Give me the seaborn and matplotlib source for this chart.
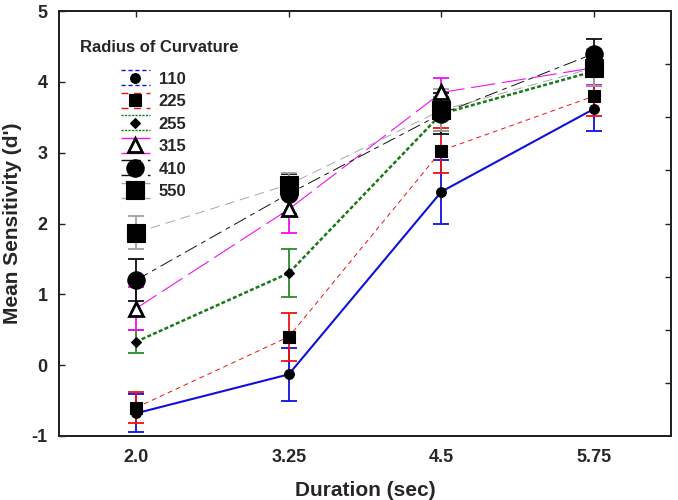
import numpy as np
import pandas as pd
import matplotlib
matplotlib.use("Agg")
import matplotlib.pyplot as plt
import seaborn as sns
from matplotlib.lines import Line2D
from matplotlib.legend_handler import HandlerBase

# ---------------- data ----------------
durations = [2.0, 3.25, 4.5, 5.75]
duration_labels = ["2.0", "3.25", "4.5", "5.75"]
radii = ["110", "225", "255", "315", "410", "550"]

mean_110 = [-0.68, -0.13, 2.45, 3.62]
mean_225 = [-0.60, 0.40, 3.03, 3.80]
mean_255 = [0.33, 1.30, 3.55, 4.15]
mean_315 = [0.80, 2.20, 3.85, 4.20]
mean_410 = [1.20, 2.42, 3.55, 4.40]
mean_550 = [1.87, 2.55, 3.60, 4.20]

err_110 = [0.27, 0.37, 0.45, 0.32]
err_225 = [0.22, 0.34, 0.32, 0.28]
err_255 = [0.16, 0.34, 0.24, 0.20]
err_315 = [0.30, 0.34, 0.20, 0.24]
err_410 = [0.30, 0.28, 0.29, 0.20]
err_550 = [0.23, 0.17, 0.30, 0.26]

means = [mean_110, mean_225, mean_255, mean_315, mean_410, mean_550]
errs = [err_110, err_225, err_255, err_315, err_410, err_550]

rows = []
for r, m, e in zip(radii, means, errs):
    for d, v, s in zip(durations, m, e):
        rows.append({"radius": r, "duration": d, "dprime": v, "err": s})
df = pd.DataFrame(rows)

# ---------------- styles ----------------
colors = {"110": "#1010d8", "225": "#f01010", "255": "#1a7a1a",
          "315": "#f010f0", "410": "#101010", "550": "#a8a8a8"}
err_colors = {"110": "#1010e0", "225": "#f01010", "255": "#2a8a2a",
              "315": "#f010f0", "410": "#101010", "550": "#a0a0a0"}
dash = {"110": "-", "225": (0, (5, 4)), "255": (0, (1.6, 0.9)),
        "315": (0, (22, 6)), "410": (0, (14, 5, 5, 5)), "550": (0, (10, 6))}
lws = {"110": 1.5, "225": 0.7, "255": 1.8, "315": 0.8, "410": 0.7, "550": 0.7}
markers = {"110": "o", "225": "s", "255": "D", "315": "^", "410": "o", "550": "s"}
msizes = {"110": 7, "225": 8, "255": 5, "315": 10, "410": 12.5, "550": 12.5}
mfc = {"110": "black", "225": "black", "255": "black", "315": "white",
       "410": "black", "550": "black"}

sns.set_style("white")
plt.rcParams["font.family"] = ["Liberation Sans", "DejaVu Sans"]
plt.rcParams["font.weight"] = "bold"

fig = plt.figure(figsize=(6.78, 5.0), dpi=100)
ax = fig.add_axes([0.087, 0.128, 0.903, 0.85])

for r in radii:
    sub = df[df["radius"] == r]
    ax.errorbar(sub["duration"], sub["dprime"], yerr=sub["err"], fmt="none",
                ecolor=err_colors[r], elinewidth=1.3, capsize=6, capthick=1.3,
                zorder=2)
for r in radii:
    sub = df[df["radius"] == r]
    sns.lineplot(data=sub, x="duration", y="dprime", ax=ax, color=colors[r],
                 linestyle=dash[r], linewidth=lws[r], marker=markers[r],
                 markersize=msizes[r], markerfacecolor=mfc[r],
                 markeredgecolor="black",
                 markeredgewidth=2.0 if r == "315" else 0.8,
                 errorbar=None, zorder=3, legend=False)

ax.set_xlim(1.37, 6.38)
ax.set_ylim(-1, 5)
ax.set_xticks(durations)
ax.set_xticklabels(duration_labels)
ax.set_yticks([-1, 0, 1, 2, 3, 4, 5])
ax.set_yticklabels(["-1", "0", "1", "2", "3", "4", "5"])
ax.tick_params(axis="both", direction="in", length=4, width=1, top=True,
               labelsize=13, color="#222222")
ax.tick_params(axis="x", pad=9)
ax.tick_params(axis="y", pad=8)
for lab in ax.get_xticklabels() + ax.get_yticklabels():
    lab.set_fontweight("bold")

ax2 = ax.twinx()
ax2.set_ylim(-1, 5)
ax2.set_yticks([-0.25, 0.5, 1.25, 2.0, 2.75, 3.5, 4.25])
ax2.tick_params(axis="y", direction="in", length=4, width=1, labelright=False,
                color="#222222")
ax2.grid(False)

for a in (ax, ax2):
    for s in a.spines.values():
        s.set_linewidth(1.4)
        s.set_color("#222222")

ax.set_xlabel("Duration (sec)", fontsize=15, fontweight="bold", labelpad=11)
ax.set_ylabel("Mean Sensitivity (d')", fontsize=15, fontweight="bold", labelpad=7)


# ---------------- legend ----------------
class CurvHandler(HandlerBase):
    def create_artists(self, legend, orig_handle, xdescent, ydescent, width,
                       height, fontsize, trans):
        r = orig_handle.get_label()
        x0, x1 = -xdescent, -xdescent + width
        yb = -ydescent - 1
        yt = -ydescent + height + 1
        ym = -ydescent + height / 2
        arts = []
        for y in (yb, yt):
            ln = Line2D([x0, x1], [y, y], color=colors[r],
                        linestyle=dash[r] if r != "110" else (0, (3, 2)),
                        linewidth=1.0)
            ln.set_transform(trans)
            arts.append(ln)
        mk = Line2D([(x0 + x1) / 2], [ym], marker=markers[r],
                    markersize=msizes[r], markerfacecolor=mfc[r],
                    markeredgecolor="black",
                    markeredgewidth=2.0 if r == "315" else 0.8, linestyle="none")
        mk.set_transform(trans)
        arts.append(mk)
        return arts


proxies = [Line2D([], [], label=r) for r in radii]
leg = ax.legend(handles=proxies, labels=radii,
                handler_map={Line2D: CurvHandler()},
                loc="upper left", bbox_to_anchor=(0.088, 0.877),
                frameon=False, borderpad=0, handlelength=1.7, handleheight=0.75,
                handletextpad=0.55, labelspacing=0.45,
                prop={"weight": "bold", "size": 12})
ax.text(0.034, 0.915, "Radius of Curvature", transform=ax.transAxes,
        fontsize=12, fontweight="bold", va="center", ha="left")

fig.savefig("out.png", dpi=100)
